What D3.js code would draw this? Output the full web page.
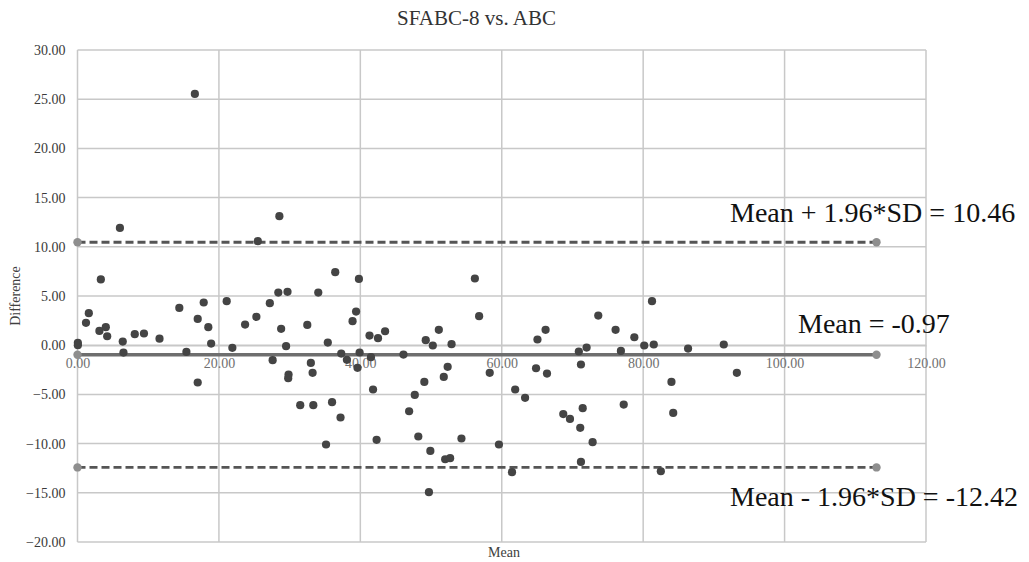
<!DOCTYPE html>
<html>
<head>
<meta charset="utf-8">
<script src="https://cdn.jsdelivr.net/npm/d3@7"></script>
<style>
  html, body { margin: 0; padding: 0; background: #fff; }
  svg { display: block; }
  text { font-family: "Liberation Serif", "Times New Roman", serif; }
</style>
</head>
<body>
<svg id="chart" width="1029" height="562"></svg>
<script>
// ---- Data ----
const title = "SFABC-8 vs. ABC";
const xLabel = "Mean";
const yLabel = "Difference";

const meanValues = [
  0.05, 0.05, 1.2, 1.6, 3.1, 3.3, 4.0, 4.2, 6.0, 6.4,
  6.5, 8.1, 9.4, 11.6, 14.4, 15.4, 16.6, 17.0, 17.0, 17.85,
  18.5, 18.9, 21.1, 21.9, 23.7, 25.3, 25.5, 27.2, 27.6, 28.4,
  28.55, 28.8, 29.5, 29.7, 29.85, 29.8, 31.5, 32.5, 33.0, 33.25,
  33.35, 34.05, 35.15, 35.4, 36.0, 36.45, 37.2, 37.3, 38.1, 38.9,
  39.4, 39.8, 39.9, 39.6, 41.3, 41.5, 41.8, 42.3, 42.5, 43.5,
  46.1, 46.9, 47.7, 48.2, 49.05, 49.25, 49.7, 49.9, 50.25, 51.1,
  51.8, 52.35, 52.0, 52.7, 52.9, 54.3, 56.2, 56.8, 58.3, 59.6,
  61.45, 61.9, 63.3, 64.85, 65.05, 66.2, 66.4, 68.7, 69.65, 70.9,
  71.2, 71.45, 71.1, 71.2, 72.0, 72.85, 73.65, 76.1, 76.85, 77.25,
  78.75, 80.15, 81.25, 81.5, 82.5, 84.0, 84.25, 86.35, 91.4, 93.25
];
const diffValues = [
  0.25, 0.0, 2.27, 3.25, 1.45, 6.68, 1.83, 0.91, 11.92, 0.37,
  -0.75, 1.12, 1.19, 0.66, 3.79, -0.68, 25.54, 2.67, -3.79, 4.34,
  1.83, 0.17, 4.47, -0.27, 2.1, 2.88, 10.57, 4.27, -1.52, 5.35,
  13.11, 1.66, -0.1, 5.42, -2.98, -3.35, -6.1, 2.06, -1.8, -2.81,
  -6.1, 5.35, -10.09, 0.27, -5.79, 7.42, -7.35, -0.85, -1.49, 2.44,
  3.42, 6.74, -0.74, -2.3, 0.98, -1.22, -4.5, -9.62, 0.71, 1.42,
  -0.95, -6.71, -5.05, -9.28, -3.73, 0.51, -14.94, -10.74, -0.03, 1.56,
  -3.22, -2.2, -11.59, -11.48, 0.1, -9.48, 6.78, 2.95, -2.81, -10.09,
  -12.9, -4.5, -5.35, -2.34, 0.58, 1.56, -2.88, -7.0, -7.49, -0.64,
  -1.96, -6.4, -8.4, -11.86, -0.24, -9.86, 3.01, 1.56, -0.58, -6.03,
  0.81, -0.03, 4.47, 0.07, -12.81, -3.73, -6.88, -0.34, 0.07, -2.81
];

const meanDiff = -0.97;
const upperLimit = 10.46;
const lowerLimit = -12.42;
const limitLineX = [0, 113];

const xTicks = [0, 20, 40, 60, 80, 100, 120];
const yTicks = [-20, -15, -10, -5, 0, 5, 10, 15, 20, 25, 30];

const limitLabels = [
  { value: upperLimit, text: "Mean + 1.96*SD = 10.46" },
  { value: meanDiff,   text: "Mean = -0.97" },
  { value: lowerLimit, text: "Mean - 1.96*SD = -12.42" }
];

// ---- Layout ----
const svg = d3.select("#chart");
const pL = 77.5, pR = 926, pT = 50, pB = 542;

const x = d3.scaleLinear().domain([0, 120]).range([pL, pR]);
const y = d3.scaleLinear().domain([-20, 30]).range([pB, pT]);

const gridColor = "#c8c8c8";
const serif = '"Liberation Serif", "Times New Roman", serif';

// Gridlines
svg.append("g").selectAll("line").data(yTicks).join("line")
  .attr("x1", pL).attr("x2", pR)
  .attr("y1", d => y(d)).attr("y2", d => y(d))
  .attr("stroke", gridColor).attr("stroke-width", 1.5);
svg.append("g").selectAll("line").data(xTicks).join("line")
  .attr("x1", d => x(d)).attr("x2", d => x(d))
  .attr("y1", pT).attr("y2", pB)
  .attr("stroke", gridColor).attr("stroke-width", 1.5);

// Y axis
const yAxis = svg.append("g")
  .attr("transform", `translate(${pL},0)`)
  .call(d3.axisLeft(y).tickValues(yTicks).tickFormat(d3.format(".2f")).tickSize(0).tickPadding(12));
yAxis.select(".domain").remove();
yAxis.selectAll("text")
  .style("font-family", serif)
  .style("font-size", "14px").attr("fill", "#3a3a3a");

// X axis at y = 0
const xAxis = svg.append("g")
  .attr("transform", `translate(0,${y(0)})`)
  .call(d3.axisBottom(x).tickValues(xTicks).tickFormat(d3.format(".2f")).tickSize(0).tickPadding(13));
xAxis.select(".domain").attr("stroke", gridColor).attr("stroke-width", 1.5);
xAxis.selectAll("text")
  .style("font-family", serif)
  .style("font-size", "14px").attr("fill", "#707070");

// Limit lines
const lineGen = d3.line().x(d => x(d[0])).y(d => y(d[1]));
[upperLimit, lowerLimit].forEach(v => {
  svg.append("path")
    .attr("d", lineGen(limitLineX.map(xx => [xx, v])))
    .attr("stroke", "#555").attr("stroke-width", 2.8)
    .attr("stroke-dasharray", "8,4").attr("fill", "none");
});
svg.append("path")
  .attr("d", lineGen(limitLineX.map(xx => [xx, meanDiff])))
  .attr("stroke", "#6e6e6e").attr("stroke-width", 3.4).attr("fill", "none");

// Endpoint markers
const endPts = [];
[upperLimit, meanDiff, lowerLimit].forEach(v => limitLineX.forEach(xx => endPts.push([xx, v])));
svg.append("g").selectAll("circle").data(endPts).join("circle")
  .attr("cx", d => x(d[0])).attr("cy", d => y(d[1])).attr("r", 4.2)
  .attr("fill", "#8e8e8e");

// Data points
const pts = meanValues.map((m, i) => ({ m, d: diffValues[i] }));
svg.append("g").selectAll("circle").data(pts).join("circle")
  .attr("cx", d => x(d.m)).attr("cy", d => y(d.d)).attr("r", 4.1)
  .attr("fill", "#444");

// Title
svg.append("text").attr("x", 476.5).attr("y", 25).attr("text-anchor", "middle")
  .style("font-family", serif)
  .style("font-size", "21px").attr("fill", "#333").text(title);

// Axis titles
svg.append("text").attr("x", 504).attr("y", 557).attr("text-anchor", "middle")
  .style("font-family", serif)
  .style("font-size", "14px").attr("fill", "#404040").text(xLabel);
svg.append("text")
  .attr("transform", `translate(20,${(pT + pB) / 2}) rotate(-90)`)
  .attr("text-anchor", "middle")
  .style("font-family", serif)
  .style("font-size", "14px").attr("fill", "#404040").text(yLabel);

// Limit annotations
const annY = [222, 333, 506];
const annX = [730, 798, 730];
svg.append("g").selectAll("text").data(limitLabels).join("text")
  .attr("x", (d, i) => annX[i]).attr("y", (d, i) => annY[i])
  .style("font-family", serif)
  .style("font-size", "28px").attr("fill", "#111").text(d => d.text);
</script>
</body>
</html>
